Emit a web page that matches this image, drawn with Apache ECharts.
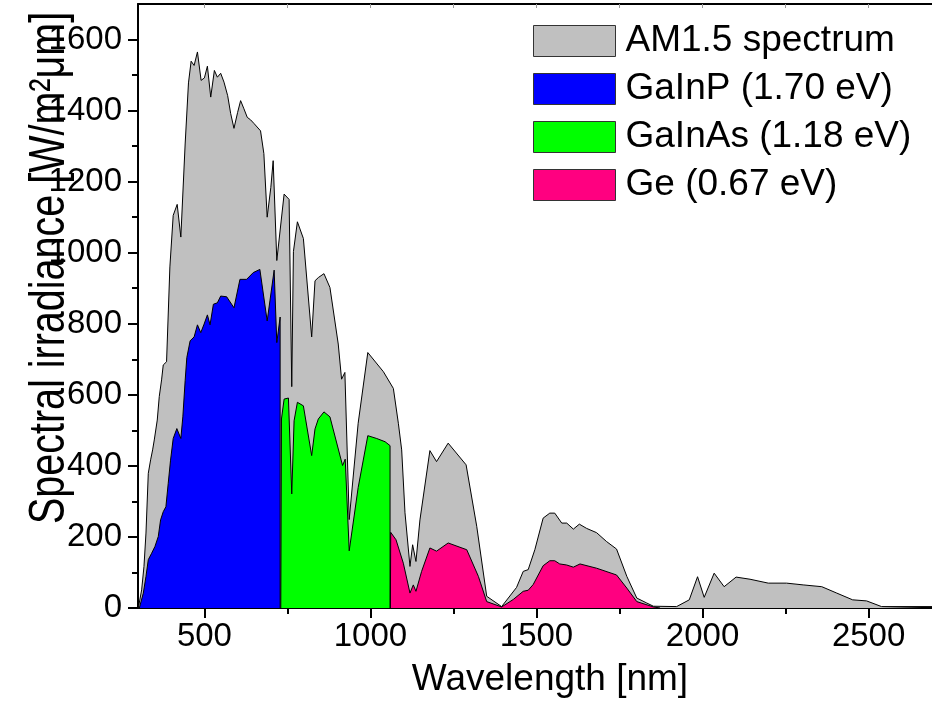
<!DOCTYPE html>
<html>
<head>
<meta charset="utf-8">
<script src="https://cdn.jsdelivr.net/npm/echarts@6/dist/echarts.min.js"></script>
<style>
 html,body{margin:0;padding:0;background:#fff;}
 #main{width:932px;height:716px;}
</style>
</head>
<body>
<div id="main"></div>
<script>
// AM1.5 reference spectrum (nm, W/m2/um)
var amWl = [301,311,318,324,331,338,344,349,358,364,371,376,386,396,406,418,429,442,452,460,
  469,479,490,500,509,519,530,539,549,559,570,579,589,600,609,619,629,639,649,669,
  679,689,700,707,718,740,755,763,768,780,798,823,833,843,860,878,903,913,923,936,
  963,992,1039,1069,1084,1094,1104,1119,1127,1137,1149,1179,1199,1234,1288,1320,1350,1395,1440,1460,
  1475,1495,1520,1540,1555,1576,1591,1611,1629,1651,1681,1711,1741,1772,1802,1832,1852,1922,1960,1985,
  2005,2035,2065,2101,2143,2198,2253,2303,2359,2404,2452,2494,2539,2700];
var amIrr = [0,51,117,211,379,417,445,473,529,595,642,684,693,960,1105,1136,1044,1306,1478,1539,
  1527,1565,1485,1492,1525,1438,1513,1494,1505,1480,1442,1392,1350,1395,1428,1405,1381,1374,1364,1343,
  1279,1100,1184,1259,978,1165,1150,623,1003,1087,1040,763,921,930,941,902,743,644,663,249,
  520,719,665,618,520,445,268,117,178,131,248,443,412,464,403,230,33,4,58,103,
  108,164,253,267,267,239,239,222,236,224,212,187,166,89,28,14,5,4,23,88,
  30,98,60,87,81,70,70,65,60,42,23,20,4,4];

// GaInP top cell
var gainpWl = [304,316,324,331,341,351,361,368,376,384,391,398,406,417,421,429,435,442,447,457,
  469,479,489,499,509,517,527,539,549,567,589,607,627,647,667,689,710,718,728,728];
var gainpIrr = [0,42,89,136,154,173,201,248,271,285,351,416,477,505,510,477,538,640,705,752,
  763,797,775,799,825,797,855,859,878,876,845,925,925,944,953,808,951,747,819,0];

// GaInAs middle cell
var gainasWl = [730,732,740,753,763,770,780,798,823,833,843,860,878,916,924,936,963,992,1019,1044,1059,1059];
var gainasIrr = [0,532,588,591,321,527,579,569,429,504,532,552,538,401,419,161,339,485,477,468,457,0];

// Ge bottom cell
var geWl = [1060,1061,1077,1099,1119,1129,1137,1154,1179,1199,1234,1290,1325,1350,1395,1430,1460,1475,1490,1520,
  1540,1555,1570,1591,1611,1631,1681,1741,1772,1802,1852,1872];
var geIrr = [0,213,192,126,42,65,47,103,169,160,183,164,89,18,3,24,47,50,66,119,
  133,133,124,121,115,124,112,93,56,18,3,0];

var names = ['AM1.5 spectrum', 'GaInP (1.70 eV)', 'GaInAs (1.18 eV)', 'Ge (0.67 eV)'];
var colors = ['#c0c0c0', '#0000ff', '#00ff00', '#ff0080'];

var xMajor = [500, 1000, 1500, 2000, 2500];
var xMinor = [750, 1250, 1750, 2250];
var xTop = [500, 750, 1000, 1250, 1500, 1750, 2000, 2250, 2500];
var yMajor = [0, 200, 400, 600, 800, 1000, 1200, 1400, 1600];
var yMinor = [100, 300, 500, 700, 900, 1100, 1300, 1500];

var font = "'Liberation Sans', Arial, sans-serif";

function pairs(xs, ys) {
  var out = [];
  for (var i = 0; i < xs.length; i++) out.push([xs[i], ys[i]]);
  return out;
}

function areaSeries(name, color, data) {
  return {
    name: name,
    type: 'line',
    xAxisIndex: 0,
    yAxisIndex: 0,
    data: data,
    showSymbol: false,
    symbol: 'none',
    color: color,
    lineStyle: { color: '#000', width: 1 },
    areaStyle: { color: color, opacity: 1 },
    silent: true
  };
}

function plain(v) { return String(v); }

var myChart = echarts.init(document.getElementById('main'));

myChart.setOption({
  animation: false,
  backgroundColor: '#fff',
  grid: { left: 138, top: 4, width: 797, height: 604, outerBoundsMode: 'none' },
  legend: {
    orient: 'vertical',
    left: 528,
    top: 14,
    icon: 'rect',
    itemWidth: 82,
    itemHeight: 31,
    itemGap: 4,
    itemStyle: { borderColor: '#333', borderWidth: 1 },
    textStyle: { fontSize: 37, lineHeight: 44, fontFamily: font, color: '#000', padding: [0, 0, 0, 5] },
    data: [
      { name: names[0], itemStyle: { color: colors[0] } },
      { name: names[1], itemStyle: { color: colors[1] } },
      { name: names[2], itemStyle: { color: colors[2] } },
      { name: names[3], itemStyle: { color: colors[3] } }
    ],
    selectedMode: false
  },
  xAxis: [{
    type: 'value', min: 300, max: 2700, position: 'bottom',
    axisLine: { lineStyle: { color: '#000', width: 2 } },
    axisTick: { customValues: xMajor, length: 10, lineStyle: { color: '#000', width: 2 } },
    axisLabel: { customValues: xMajor, formatter: plain, fontSize: 33, fontFamily: font, color: '#000', margin: 12 },
    splitLine: { show: false },
    name: 'Wavelength [nm]',
    nameLocation: 'middle',
    nameGap: 53,
    nameTextStyle: { fontSize: 37, fontFamily: font, color: '#000', padding: [0, 0, 0, 27] }
  }, {
    type: 'value', min: 300, max: 2700, position: 'bottom',
    axisLine: { show: false },
    axisTick: { customValues: xMinor, length: 6, lineStyle: { color: '#000', width: 2 } },
    axisLabel: { show: false },
    splitLine: { show: false }
  }, {
    type: 'value', min: 300, max: 2700, position: 'top',
    axisLine: { lineStyle: { color: '#000', width: 2 } },
    axisTick: { inside: true, customValues: xTop, length: 4, lineStyle: { color: '#999', width: 1 } },
    axisLabel: { show: false },
    splitLine: { show: false }
  }],
  yAxis: [{
    type: 'value', min: 0, max: 1700, position: 'left',
    axisLine: { show: true, lineStyle: { color: '#000', width: 2 } },
    axisTick: { show: true, customValues: yMajor, length: 10, lineStyle: { color: '#000', width: 2 } },
    axisLabel: { customValues: yMajor, formatter: plain, fontSize: 33, fontFamily: font, color: '#000', margin: 16 },
    splitLine: { show: false }
  }, {
    type: 'value', min: 0, max: 1700, position: 'left',
    axisLine: { show: false },
    axisTick: { show: true, customValues: yMinor, length: 6, lineStyle: { color: '#000', width: 2 } },
    axisLabel: { show: false },
    splitLine: { show: false }
  }],
  graphic: [{
    type: 'text',
    x: 50,
    y: 268,
    rotation: Math.PI / 2,
    scaleX: 0.79,
    style: {
      text: 'Spectral irradiance [W/m\u00b2\u03bcm]',
      fontSize: 50,
      fontFamily: font,
      fill: '#000',
      textAlign: 'center',
      textVerticalAlign: 'middle'
    }
  }],
  series: [
    areaSeries(names[0], colors[0], pairs(amWl, amIrr)),
    areaSeries(names[1], colors[1], pairs(gainpWl, gainpIrr)),
    areaSeries(names[2], colors[2], pairs(gainasWl, gainasIrr)),
    areaSeries(names[3], colors[3], pairs(geWl, geIrr))
  ]
});
</script>
</body>
</html>
